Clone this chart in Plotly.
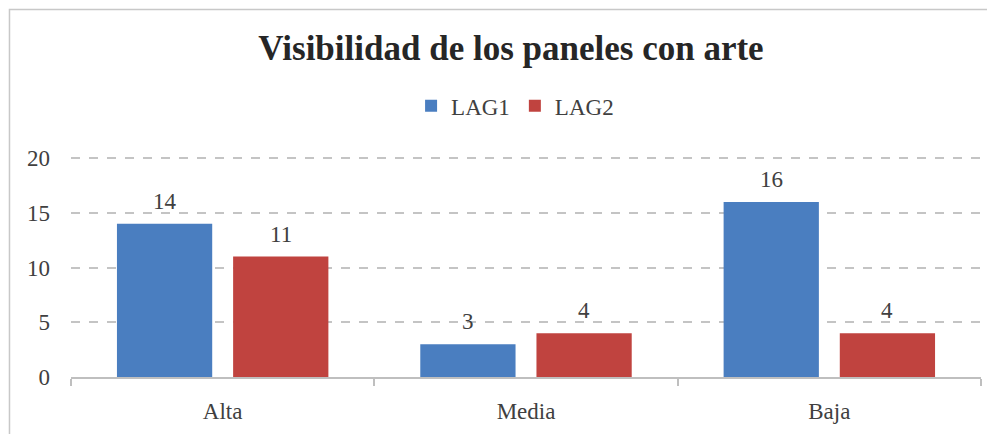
import plotly.graph_objects as go

# data
categories = ["Alta", "Media", "Baja"]
lag1 = [14, 3, 16]
lag2 = [11, 4, 4]
y_ticks = [0, 5, 10, 15, 20]

font_family = "Liberation Serif"
text_color = "#404040"

fig = go.Figure()
fig.add_trace(go.Bar(
    x=categories, y=lag1, name="LAG1",
    marker=dict(color="#4A7EC0", line=dict(width=0)),
))
fig.add_trace(go.Bar(
    x=categories, y=lag2, name="LAG2",
    marker=dict(color="#C0433F", line=dict(width=0)),
))

# value labels above each bar
for vals, shift in ((lag1, -58), (lag2, 58)):
    for cat, v in zip(categories, vals):
        fig.add_annotation(
            x=cat, y=v, text=str(v), showarrow=False,
            xshift=shift, yshift=8, yanchor="bottom",
            font=dict(family=font_family, size=23, color=text_color),
        )

# chart border (only top/left visible in the frame)
fig.add_shape(
    type="rect", xref="paper", yref="paper",
    x0=-0.0676, x1=1.2, y0=-0.6, y1=1.67,
    line=dict(color="#C8C8C8", width=1.5), fillcolor="rgba(0,0,0,0)",
    layer="below",
)

# page body has an 8px margin, so margins are offset by that amount
fig.update_layout(
    width=995, height=434,
    margin=dict(l=63, r=22, t=149, b=65, autoexpand=False),
    paper_bgcolor="white", plot_bgcolor="white",
    title=dict(
        text="<b>Visibilidad de los paneles con arte</b>",
        x=0.5055, xanchor="center", y=1 - 40 / 434, yanchor="middle",
        yref="container",
        font=dict(family=font_family, size=35, color="#262626"),
    ),
    legend=dict(
        orientation="h", x=0.488, xanchor="center", y=1.233, yanchor="middle",
        font=dict(family=font_family, size=23, color=text_color),
        traceorder="normal",
    ),
    barmode="group", bargap=0.234, bargroupgap=0.18,
    showlegend=True,
)

fig.update_xaxes(
    automargin=False,
    showline=True, linecolor="#BFBFBF", linewidth=2,
    ticks="outside", tickson="boundaries", ticklen=7, tickcolor="#BFBFBF", tickwidth=2,
    tickfont=dict(family=font_family, size=23, color=text_color),
    ticklabelstandoff=12,
    showgrid=False,
)
fig.update_yaxes(
    automargin=False,
    range=[0, 20.1], tickvals=y_ticks,
    showline=False, ticks="",
    showgrid=True, gridcolor="#C4C4C4", gridwidth=1.5, griddash="dash",
    zeroline=False,
    tickfont=dict(family=font_family, size=23, color=text_color),
    ticklabelstandoff=20,
)

fig.write_html("out.html")
